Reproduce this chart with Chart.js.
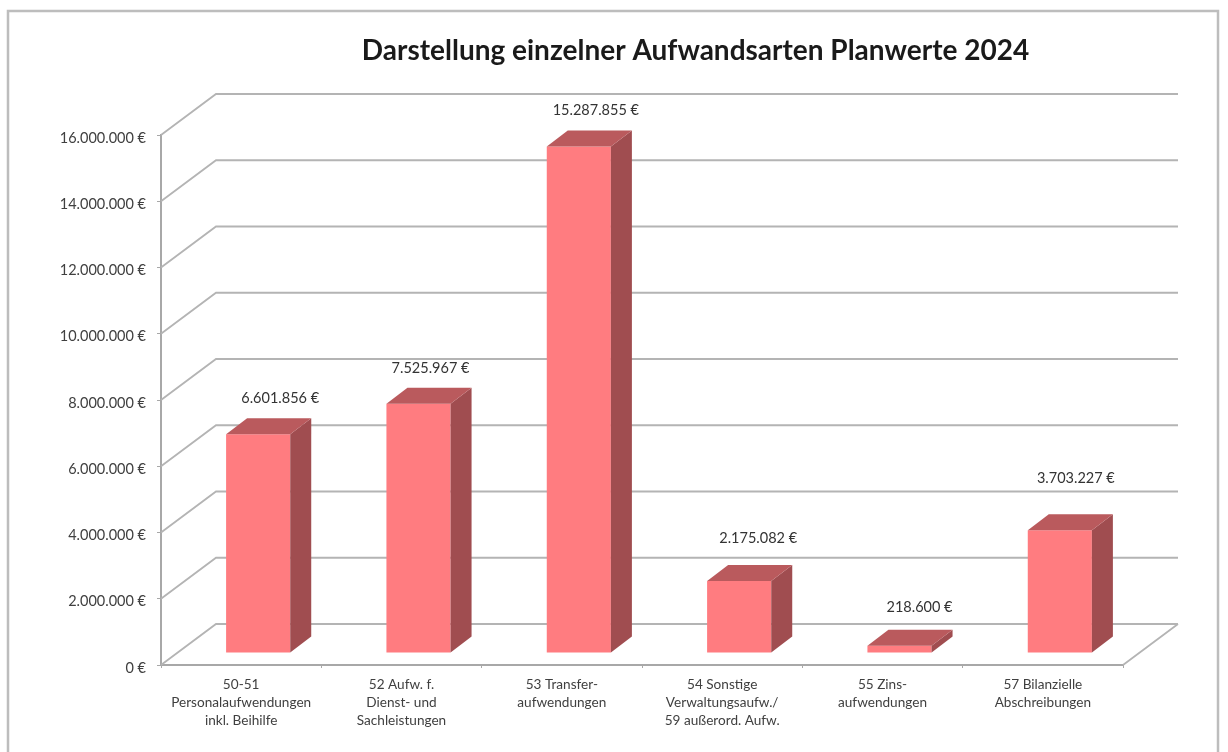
<!DOCTYPE html>
<html>
<head>
<meta charset="utf-8">
<style>
  html, body { margin: 0; padding: 0; background: #fff; overflow: hidden; }
  canvas { display: block; filter: blur(0.6px); }
</style>
<script src="https://cdn.jsdelivr.net/npm/chart.js@4"></script>
</head>
<body>
<canvas id="costChart" width="1228" height="752"></canvas>
<script>
const chartTitle = 'Darstellung einzelner Aufwandsarten Planwerte 2024'
const categories = [
  ['50-51', 'Personalaufwendungen', 'inkl. Beihilfe'],
  ['52 Aufw. f.', 'Dienst- und', 'Sachleistungen'],
  ['53 Transfer-', 'aufwendungen'],
  ['54 Sonstige', 'Verwaltungsaufw./', '59 außerord. Aufw.'],
  ['55 Zins-', 'aufwendungen'],
  ['57 Bilanzielle', 'Abschreibungen']
]
const planValues = [6601856, 7525967, 15287855, 2175082, 218600, 3703227]
const yMax = 16000000
const yStep = 2000000

// hand placed data labels in the original, offset from the top of each bar
const labelShiftX = [22, 12, 17, 19, 20, 16]
const labelShiftY = [37, 36, 37, 44, 39, 53]

const euro = v => v.toLocaleString('de-DE') + ' €'

// fake 3D: back wall offset, bar offset from the front plane, bar depth
const wall = { dx: 55, dy: -41 }
const barShift = { dx: 17, dy: -12 }
const barDepth = { dx: 21, dy: -16 }
const gridColor = '#b4b4b4'
const frontColor = '#ff7c80'
const sideColor = '#a04d50'
const topColor = '#ba5a5d'

const face = (ctx, pts, color) => {
  ctx.fillStyle = color
  ctx.beginPath()
  pts.forEach((p, i) => i ? ctx.lineTo(p[0], p[1]) : ctx.moveTo(p[0], p[1]))
  ctx.closePath()
  ctx.fill()
}

const fake3d = {
  id: 'fake3d',
  afterLayout(chart) {
    // title sits right of the middle in the original
    chart.titleBlock.left += 134
    chart.titleBlock.right += 134
  },
  beforeDraw(chart) {
    const { ctx, width } = chart
    ctx.save()
    ctx.strokeStyle = '#bdbdbd'
    ctx.lineWidth = 2.5
    ctx.strokeRect(8, 11, width - 18, 760)
    ctx.restore()
  },
  beforeDatasetsDraw(chart) {
    const { ctx, chartArea, scales } = chart
    ctx.save()
    ctx.strokeStyle = gridColor
    ctx.lineWidth = 1.8
    ctx.beginPath()
    scales.y.ticks.forEach(t => {
      const y = scales.y.getPixelForValue(t.value)
      ctx.moveTo(chartArea.left, y)
      ctx.lineTo(chartArea.left + wall.dx, y + wall.dy)
      ctx.lineTo(chartArea.right + wall.dx, y + wall.dy)
    })
    ctx.moveTo(chartArea.right, chartArea.bottom)
    ctx.lineTo(chartArea.right + wall.dx, chartArea.bottom + wall.dy)
    ctx.stroke()
    ctx.restore()

    // bars stand a bit behind the front edge of the floor
    ctx.save()
    ctx.translate(barShift.dx, barShift.dy)
  },
  afterDatasetsDraw(chart) {
    const { ctx } = chart
    const bars = chart.getDatasetMeta(0).data
    const d = barDepth
    bars.forEach(b => {
      const l = b.x - b.width / 2
      const r = b.x + b.width / 2
      face(ctx, [[r, b.y], [r + d.dx, b.y + d.dy], [r + d.dx, b.base + d.dy], [r, b.base]], sideColor)
      face(ctx, [[l, b.y], [l + d.dx, b.y + d.dy], [r + d.dx, b.y + d.dy], [r, b.y]], topColor)
    })
    ctx.restore()

    ctx.save()
    ctx.font = '14.5px Lato'
    ctx.fillStyle = '#333'
    ctx.textAlign = 'center'
    ctx.textBaseline = 'middle'
    bars.forEach((b, i) => {
      ctx.fillText(euro(planValues[i]), b.x + barShift.dx + labelShiftX[i], b.y + barShift.dy - labelShiftY[i] + 1)
    })
    ctx.restore()
  }
}

new Chart(document.getElementById('costChart'), {
  type: 'bar',
  data: {
    labels: categories,
    datasets: [{
      data: planValues,
      backgroundColor: frontColor,
      barPercentage: 0.4,
      categoryPercentage: 1,
      clip: false
    }]
  },
  options: {
    responsive: false,
    animation: false,
    layout: { padding: { top: 0, left: 0, right: 105, bottom: 0 } },
    plugins: {
      legend: { display: false },
      tooltip: { enabled: false },
      title: {
        display: true,
        text: chartTitle,
        color: '#1a1a1a',
        font: { family: 'Lato', size: 28, weight: 'bold', lineHeight: 1.2 },
        padding: { top: 34, bottom: 67.4 }
      }
    },
    scales: {
      x: {
        afterFit: s => { s.height = 87 },
        border: { color: '#a8a8a8', width: 2 },
        grid: { drawOnChartArea: false, color: '#a8a8a8', tickLength: 3 },
        ticks: {
          autoSkip: false,
          maxRotation: 0,
          padding: 8,
          color: '#404040',
          font: { family: 'Lato', size: 13.6, lineHeight: 1.32 }
        }
      },
      y: {
        min: 0,
        max: yMax,
        afterFit: s => { s.width = 161 },
        border: { color: '#a8a8a8', width: 2 },
        grid: { drawOnChartArea: false, color: '#a8a8a8', tickLength: 4 },
        ticks: {
          stepSize: yStep,
          padding: 11,
          labelOffset: 3,
          color: '#404040',
          font: { family: 'Lato', size: 14.5 },
          callback: v => euro(v)
        }
      }
    }
  },
  plugins: [fake3d]
})
</script>
</body>
</html>
